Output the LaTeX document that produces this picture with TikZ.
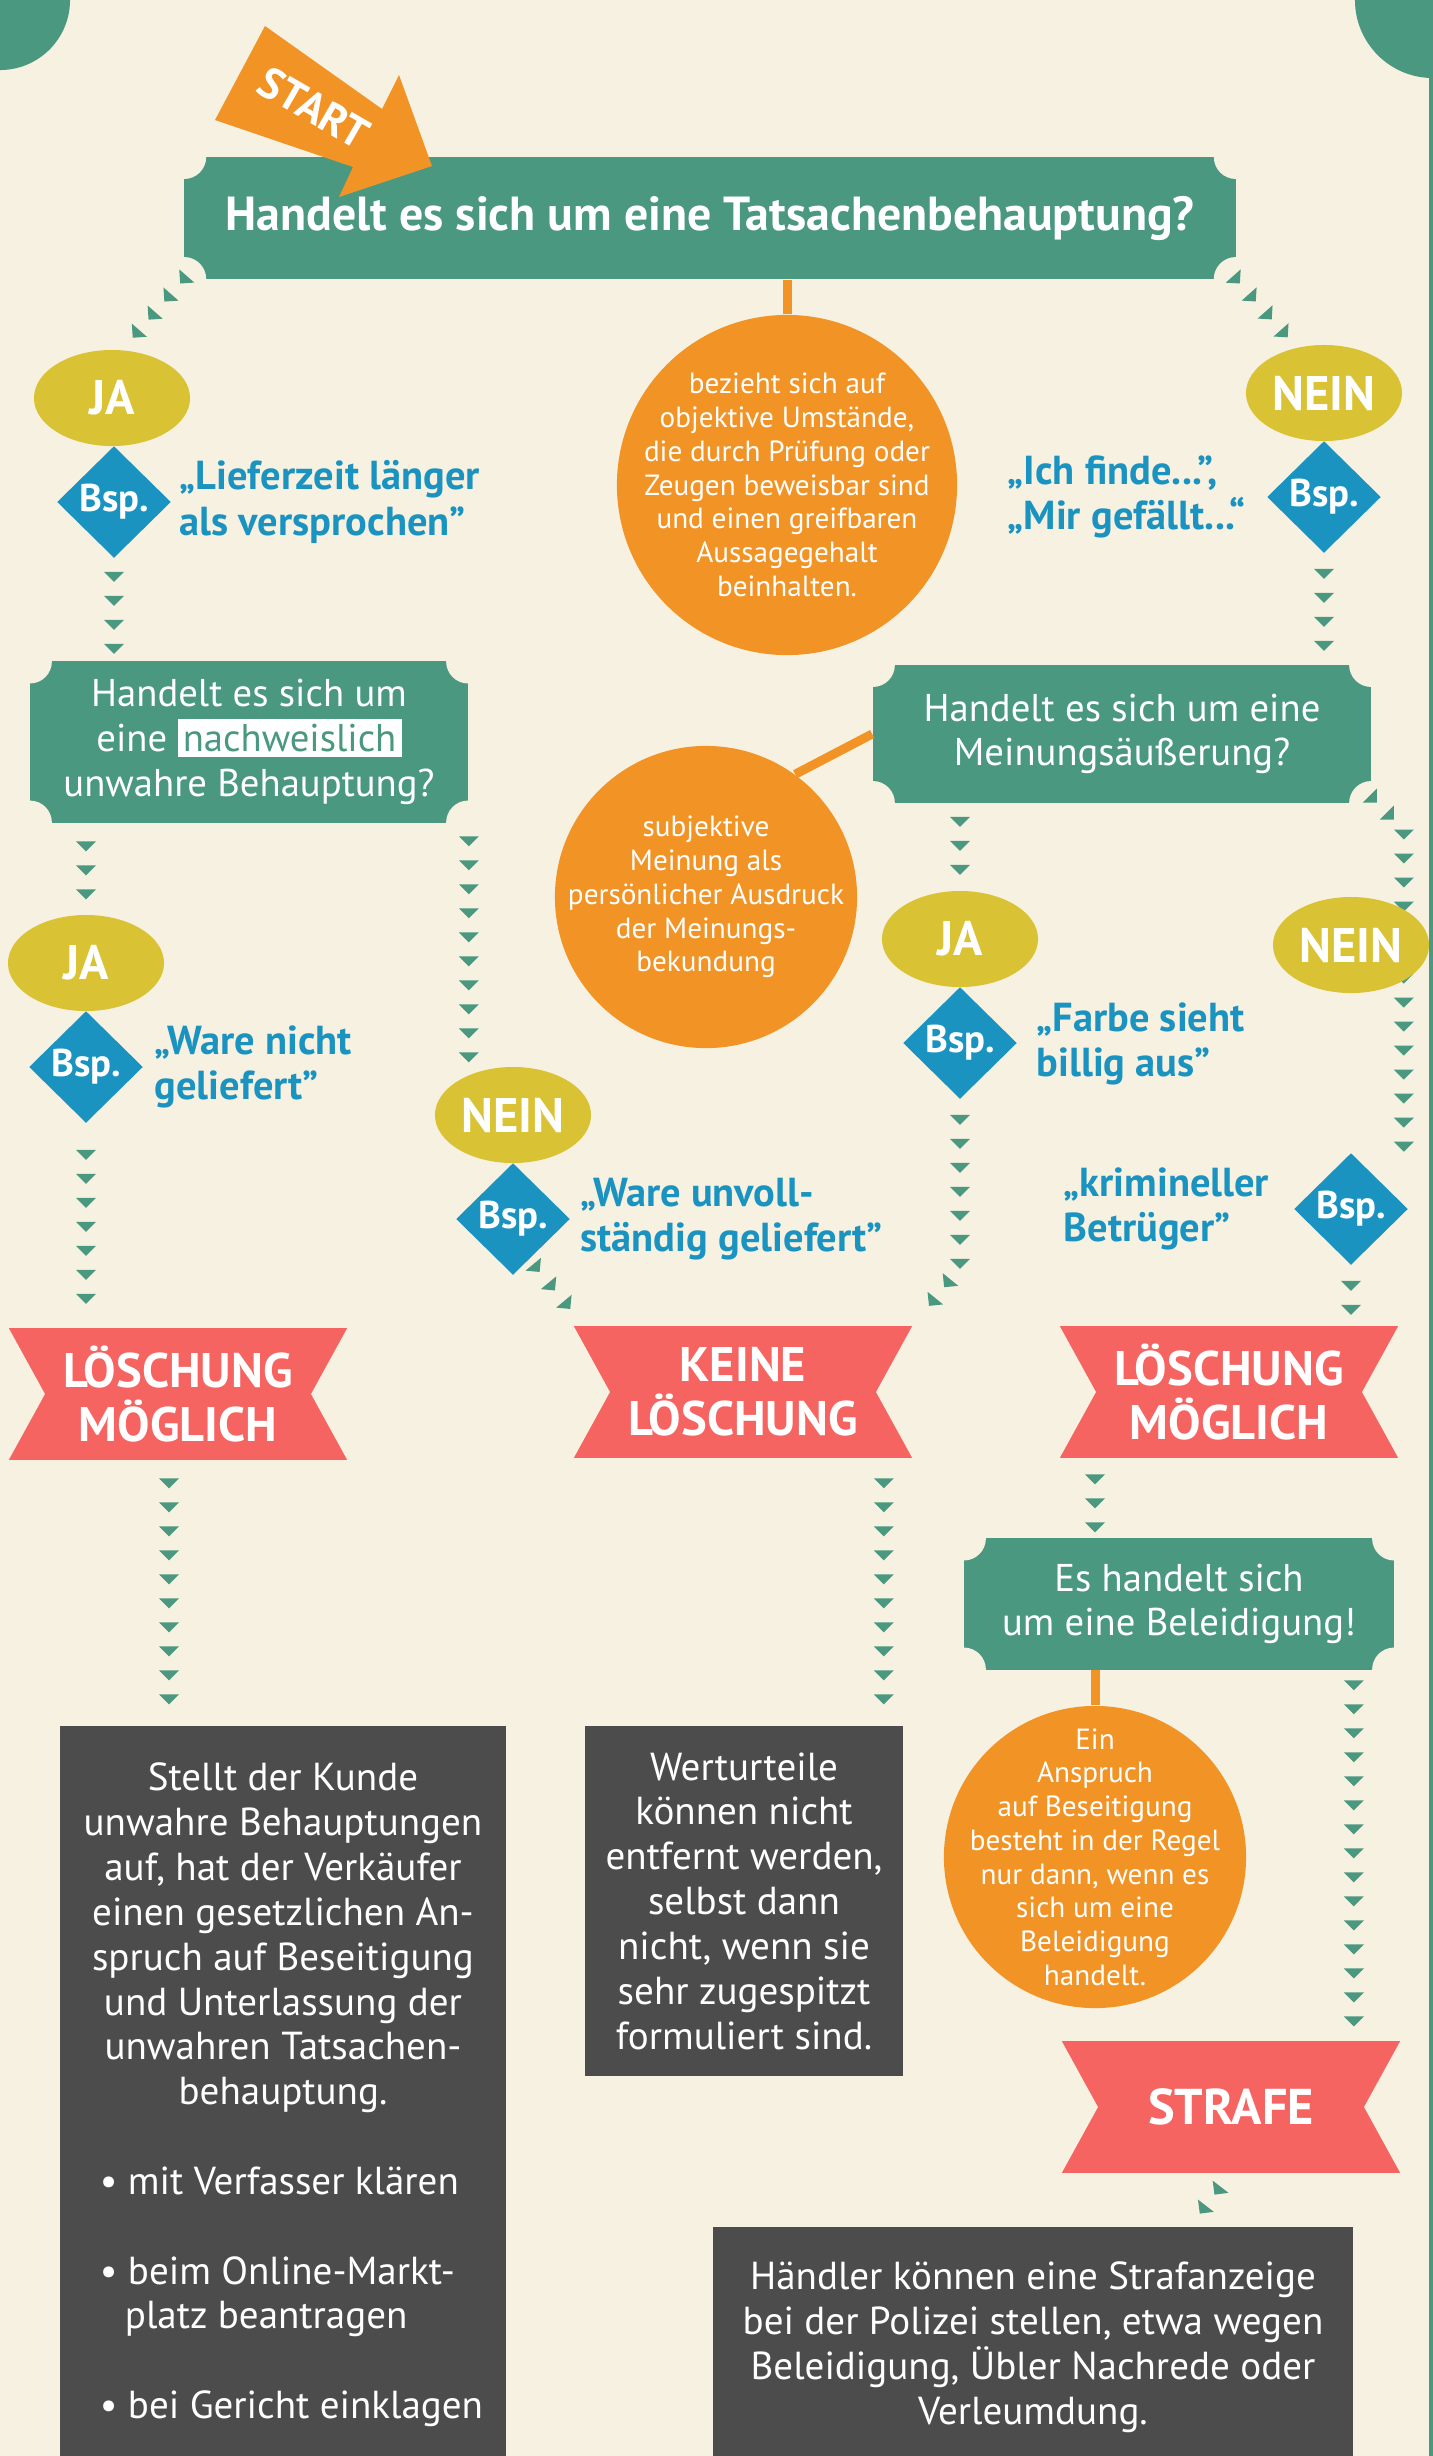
\documentclass[tikz,border=0pt]{standalone}
\usepackage{fontspec}
\setmainfont{PT Sans}
\usetikzlibrary{shapes.geometric,decorations.markings,calc}

\definecolor{cream}{HTML}{F7F1E1}
\definecolor{qgreen}{HTML}{4A9880}
\definecolor{orng}{HTML}{F29325}
\definecolor{gold}{HTML}{D9C234}
\definecolor{bspblue}{HTML}{1A93C1}
\definecolor{coral}{HTML}{F66462}
\definecolor{slate}{HTML}{4C4C4C}
\setlength{\fboxsep}{1.5pt}

\begin{document}
\begin{tikzpicture}[x=0.01cm, y=-0.01cm]

        % Define custom styles for nodes and chevron lines
        \tikzset{
          ticket/.style={rectangle, fill=qgreen, text=white, inner sep=0, align=center,
            path picture={\fill[cream] (path picture bounding box.north west) circle (0.22cm)
              (path picture bounding box.north east) circle (0.22cm)
              (path picture bounding box.south west) circle (0.22cm)
              (path picture bounding box.south east) circle (0.22cm);}},
          yesno/.style={ellipse, fill=gold, text=white, inner sep=0, minimum width=1.56cm,
            minimum height=0.96cm, font=\bfseries\fontsize{13.8}{15}\selectfont},
          bsp/.style={diamond, aspect=1, fill=bspblue, text=white, inner sep=0, minimum width=1.14cm,
            minimum height=1.12cm, font=\bfseries\fontsize{11}{12}\selectfont},
          zitat/.style={text=bspblue, anchor=west, align=left, inner sep=0,
            font=\bfseries\fontsize{11.5}{13}\selectfont},
          info/.style={circle, fill=orng, text=white, align=center, inner sep=-0.5cm,
            font=\fontsize{8.3}{9.6}\selectfont},
          banner/.style={rectangle, fill=coral, text=white, align=center, inner sep=0,
            minimum width=3.38cm, minimum height=1.31cm, font=\bfseries\fontsize{13.8}{15.4}\selectfont,
            path picture={\fill[cream] (path picture bounding box.north west)
              -- ([xshift=0.36cm]path picture bounding box.west) -- (path picture bounding box.south west) -- cycle
              (path picture bounding box.north east) -- ([xshift=-0.36cm]path picture bounding box.east)
              -- (path picture bounding box.south east) -- cycle;}},
          darkbox/.style={rectangle, fill=slate, text=white, align=center, inner sep=0,
            font=\fontsize{11.1}{12.75}\selectfont},
          orangeline/.style={draw=orng, line width=0.09cm},
          chev/.style 2 args={postaction={decorate, decoration={markings,
            mark=between positions #1 and #2 step 0.24cm with
            {\fill[qgreen] (-0.05cm,0.1cm) -- (-0.05cm,-0.1cm) -- (0.05cm,0) -- cycle;}}}}
        }

        \useasboundingbox (0,0) rectangle (1433,2456);
        \clip (0,0) rectangle (1433,2456);

        % Background and corners
        \fill[cream] (0,0) rectangle (1433,2456);
        \fill[qgreen] (0,0) circle (0.7cm);
        \fill[qgreen] (1433,0) circle (0.78cm);
        \fill[qgreen] (1429,0) rectangle (1433,2456);

        % First question
        \node[ticket, minimum width=10.51cm, minimum height=1.22cm,
          font=\bfseries\fontsize{13.6}{16}\selectfont] (q1) at (710,218) {Handelt es sich um eine Tatsachenbehauptung?};
        \fill[orng] (265,26) -- (382,109) -- (399,75) -- (432,166) -- (339,197) -- (353,167) -- (215,120) -- cycle;
        \node[text=white, rotate=-30, font=\bfseries\fontsize{12.4}{14}\selectfont] (start) at (314,108) {START};
        \node[info, minimum size=3.4cm] (c1) at (787,485) {bezieht sich auf\\objektive Umstände,\\die durch Prüfung oder\\Zeugen beweisbar sind\\und einen greifbaren\\Aussagegehalt\\beinhalten.};
        \draw[orangeline] (c1.north) -- (c1.north |- q1.south);

        % Yes / no answers to the first question
        \node[yesno] (ja1) at (112,398) {JA};
        \node[bsp] (b1) at (114,502) {Bsp.};
        \node[zitat] (z1) at (179,502) {„Lieferzeit länger\\als versprochen”};
        \node[yesno] (nein1) at (1324,393) {NEIN};
        \node[bsp] (b2) at (1324,497) {Bsp.};
        \node[zitat] (z2) at (1007,497) {„Ich finde...”,\\„Mir gefällt...“};

        % Second level questions
        \node[ticket, minimum width=4.38cm, minimum height=1.61cm,
          font=\fontsize{11}{12.7}\selectfont] (q2) at (249,742) {Handelt es sich um\\eine \colorbox{white}{\textcolor{qgreen}{nachweislich}}\\unwahre Behauptung?};
        \node[ticket, minimum width=4.98cm, minimum height=1.38cm,
          font=\fontsize{11}{12.7}\selectfont] (q3) at (1122,734) {Handelt es sich um eine\\Meinungsäußerung?};
        \node[info, minimum size=3.02cm] (c2) at (706,897) {subjektive\\Meinung als\\persönlicher Ausdruck\\der Meinungs-\\bekundung};
        \draw[orangeline] (q3.west) -- (c2.54);

        \node[yesno] (ja2) at (86,963) {JA};
        \node[bsp] (b3) at (86,1067) {Bsp.};
        \node[zitat] (z3) at (154,1067) {„Ware nicht\\geliefert”};
        \node[yesno] (nein2) at (513,1115) {NEIN};
        \node[bsp] (b4) at (513,1219) {Bsp.};
        \node[zitat] (z4) at (580,1219) {„Ware unvoll-\\ständig geliefert”};
        \node[yesno] (ja3) at (960,939) {JA};
        \node[bsp] (b5) at (960,1043) {Bsp.};
        \node[zitat] (z5) at (1036,1044) {„Farbe sieht\\billig aus”};
        \node[bsp] (b6) at (1351,1209) {Bsp.};
        \node[zitat] (z6) at (1063,1209) {„krimineller\\Betrüger”};
        \path[chev={0.02cm}{-0.1cm}] ($(q3.south east)+(0,-6)$) -- ++(32,32) -- ($(b6.east)+(-5,-29)$);
        \node[yesno] (nein3) at (1351,945) {NEIN};

        % Results
        \node[banner] (los1) at (178,1394) {LÖSCHUNG\\MÖGLICH};
        \node[banner] (keine) at (743,1392) {KEINE\\LÖSCHUNG};
        \node[banner] (los2) at (1229,1392) {LÖSCHUNG\\MÖGLICH};

        \node[ticket, minimum width=4.3cm, minimum height=1.31cm,
          font=\fontsize{11}{12.7}\selectfont] (q4) at (1179,1604) {Es handelt sich\\um eine Beleidigung!};
        \node[info, minimum size=3.02cm] (c3) at (1095,1857) {Ein\\Anspruch\\auf Beseitigung\\besteht in der Regel\\nur dann, wenn es\\sich um eine\\Beleidigung\\handelt.};
        \draw[orangeline] (c3.north) -- (c3.north |- q4.south);
        \node[banner, font=\bfseries\fontsize{14.3}{16}\selectfont] (strafe) at (1231,2107) {STRAFE};

        % Explanation boxes
        \node[darkbox, minimum width=4.46cm, minimum height=7.38cm] (kunde) at (283,2095) {Stellt der Kunde\\unwahre Behauptungen\\auf, hat der Verkäufer\\einen gesetzlichen An-\\spruch auf Beseitigung\\und Unterlassung der\\unwahren Tatsachen-\\behauptung.\\[12.75pt]\makebox[3.9cm][l]{\hspace{0.12cm}\textbullet\ mit Verfasser klären}\\[12.75pt]\makebox[3.9cm][l]{\hspace{0.12cm}\textbullet\ beim Online-Markt-}\\\makebox[3.9cm][l]{\hspace{0.37cm}platz beantragen}\\[12.75pt]\makebox[3.9cm][l]{\hspace{0.12cm}\textbullet\ bei Gericht einklagen}};
        \node[darkbox, minimum width=3.18cm, minimum height=3.5cm] (wert) at (744,1901) {Werturteile\\können nicht\\entfernt werden,\\selbst dann\\nicht, wenn sie\\sehr zugespitzt\\formuliert sind.};
        \node[darkbox, minimum width=6.4cm, minimum height=2.4cm] (anzeige) at (1033,2347) {Händler können eine Strafanzeige\\bei der Polizei stellen, etwa wegen\\Beleidigung, Übler Nachrede oder\\Verleumdung.};

        % Chevron connectors
        \path[chev={0cm}{-0.2cm}] (q1.south west) -- (ja1.78);
        \path[chev={0cm}{-0.1cm}] (q1.south east) -- (nein1.121);
        \path[chev={0.2cm}{-0.1cm}] (b2.south) -- (b2.south |- q3.north);
        \path[chev={0.18cm}{-0.1cm}] (b1.south) -- (b1.south |- q2.north);
        \path[chev={0.23cm}{-0.1cm}] (ja2.north |- q2.south) -- (ja2.north);
        \path[chev={0.31cm}{-0.2cm}] (b3.south) -- (b3.south |- los1.north);
        \path[chev={0.18cm}{-0.05cm}] (q2.south east) -- (q2.south east |- nein2.north);
        \path[chev={0.11cm}{-0.1cm}] (b4.-68) -- ($(keine.north west)+(11,0)$);
        \path[chev={0.18cm}{-0.1cm}] (ja3.north |- q3.south) -- (ja3.north);
        \path[chev={0.2cm}{-0.15cm}] (b5.south) -- ++(0,168) -- (keine.north east);
        \path[chev={0.2cm}{-0.1cm}] (b6.south) -- (b6.south |- los2.north);
        \path[chev={0.23cm}{-0.2cm}] ($(los1.south)+(-9,0)$) -- ($(los1.south |- kunde.north)+(-9,0)$);
        \path[chev={0.25cm}{-0.2cm}] ($(keine.south east)+(-29,0)$) -- ($(keine.south east |- wert.north)+(-29,0)$);
        \path[chev={0.21cm}{-0.1cm}] (c3.north |- los2.south) -- (c3.north |- q4.north);
        \path[chev={0.15cm}{-0.15cm}] ($(q4.south east)+(-41,0)$) -- ($(q4.south east |- strafe.north)+(-41,0)$);
        \path[chev={0.22cm}{-0.15cm}] (strafe.south) -- ($(strafe.south |- anzeige.north)+(-41,0)$);

\end{tikzpicture}
\end{document}
